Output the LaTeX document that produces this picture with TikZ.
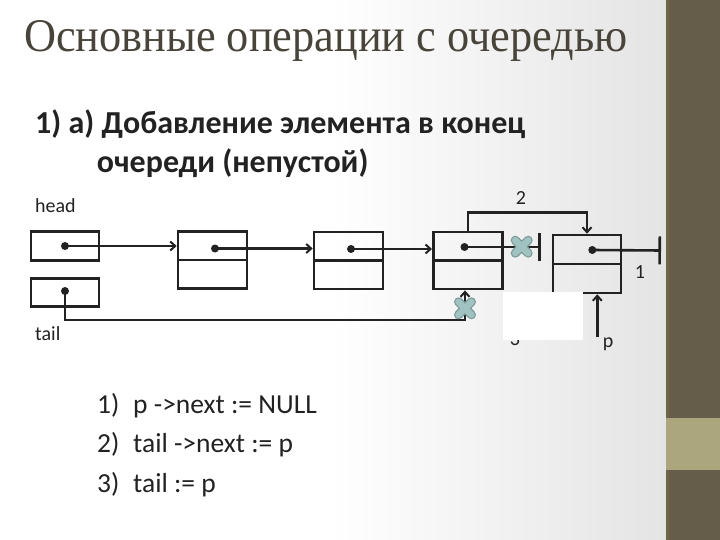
\documentclass[tikz,border=0pt]{standalone}
\usepackage{fontspec}
\setmainfont{Carlito}
\newfontfamily\titlefont{Liberation Serif}
\usetikzlibrary{arrows.meta}
\definecolor{side}{HTML}{655D49}
\definecolor{sideedge}{HTML}{6E6646}
\definecolor{band}{HTML}{ACA67F}
\definecolor{ttl}{HTML}{48443A}
\definecolor{ink}{HTML}{222222}
\definecolor{xfill}{HTML}{A0C2C1}
\definecolor{xedge}{HTML}{7C9C9B}
\definecolor{bgR}{HTML}{E4E4E4}
\newcommand\qxmark[1]{%
  \begin{scope}[shift={(#1)}]
    \draw[xedge,line width=9pt,line cap=round] (-6.5,-6.5) -- (6.5,6.5) (-6.5,6.5) -- (6.5,-6.5);
    \draw[xfill,line width=6.4pt,line cap=round] (-6.5,-6.5) -- (6.5,6.5) (-6.5,6.5) -- (6.5,-6.5);
  \end{scope}}
\begin{document}
\begin{tikzpicture}[x=1pt,y=-1pt,
  box/.style={draw=ink,line width=2.6pt,minimum width=69pt,minimum height=57pt,inner sep=0pt},
  ptrbox/.style={draw=ink,line width=2.6pt,minimum width=68pt,minimum height=28.5pt,inner sep=0pt},
  link/.style={draw=ink,line width=2.6pt},
  arr/.style={link,-{Straight Barb[length=5pt,width=9pt,line width=2pt]}},
  nullend/.style={link,-{Bar[width=28pt,line width=2.6pt]}},
  lbl/.style={font=\fontsize{20}{24}\selectfont,text=ink,inner sep=0pt,anchor=base},
  steptext/.style={font=\fontsize{27.5}{32}\selectfont,text=ink,inner sep=0pt,anchor=base west},
  subtext/.style={font=\bfseries\fontsize{32}{36}\selectfont,text=ink,inner sep=0pt,anchor=base west}
]
\useasboundingbox (0,0) rectangle (720,540);
% background
\fill[white] (0,0) rectangle (720,540);
\shade[left color=white,right color=bgR] (330,0) rectangle (666,540);
\fill[side] (666,0) rectangle (720,540);
\fill[sideedge] (666,0) rectangle (669,540);
\fill[band] (666,418) rectangle (720,470);

% title and headings
\node[anchor=base west,inner sep=0pt,text=ttl] (title) at (24,51.7)
  {\resizebox{603pt}{31pt}{\titlefont Основные операции с очередью}};
\node[subtext] (sub1) at (35,133.3) {1) а) Добавление элемента в конец};
\node[subtext] (sub2) at (96.7,172.7) {очереди (непустой)};

% pointer boxes
\node[lbl,anchor=base west] (headlbl) at (35,213) {head};
\node[lbl,anchor=base west] (taillbl) at (35,340) {tail};
\node[ptrbox] (headbox) at (65,246) {};
\node[ptrbox] (tailbox) at (65,292.5) {};

% list nodes
\node[box] (n1) at (212.5,260) {};
\node[box] (n2) at (348.5,260.5) {};
\node[box] (n3) at (467.8,260.6) {};
\node[box,minimum width=68pt,minimum height=58pt] (np) at (587,264) {};
\foreach \n in {n1,n2,n3,np} \draw[link] (\n.west) -- (\n.east);

% pointer dots
\coordinate (d0) at (65,246);
\coordinate (dt) at (65,291);
\coordinate (d1) at (215,248.5);
\coordinate (d2) at (351,249);
\coordinate (d3) at (464.5,247);
\coordinate (dp) at (592.3,250);
\coordinate (null3) at (541,247);
\coordinate (nullp) at (661,250.5);
\coordinate (tl) at (465,320);
\coordinate (pb) at (597.3,337);

% connectors
\draw[arr] (d0) -- (d0 -| n1.west);
\draw[arr] (d1) -- (d1 -| n2.west);
\draw[arr] (d2) -- (d2 -| n3.west);
\draw[nullend] (d3) -- (null3);
\draw[nullend] (dp) -- (nullp);
\draw[arr] (n3.north) -- ++(0,-18) -| (np.north);
\draw[arr] (dt) |- (tl) -- (tl |- n3.south);
\draw[arr] (pb) -- (pb |- np.south);
\foreach \d in {d0,dt,d1,d2,d3,dp} \fill[ink] (\d) circle (4pt);

% labels
\node[lbl] (lab2) at (521,205) {2};
\node[lbl] (lab1) at (640,278) {1};
\node[lbl] (lab3) at (515,345) {3};
\node[lbl] (labp) at (608,347) {p};
\fill[white] (503,292) rectangle (583,339.5);

% cross marks
\coordinate (xm1) at (521.7,246.7);
\coordinate (xm2) at (465,308.3);
\qxmark{xm1}
\qxmark{xm2}

% steps
\node[steptext] (s1) at (97,413) {\makebox[36pt][l]{1)}p ->next := NULL};
\node[steptext] (s2) at (97,452.5) {\makebox[36pt][l]{2)}tail ->next := p};
\node[steptext] (s3) at (97,492) {\makebox[36pt][l]{3)}tail := p};
\end{tikzpicture}
\end{document}
